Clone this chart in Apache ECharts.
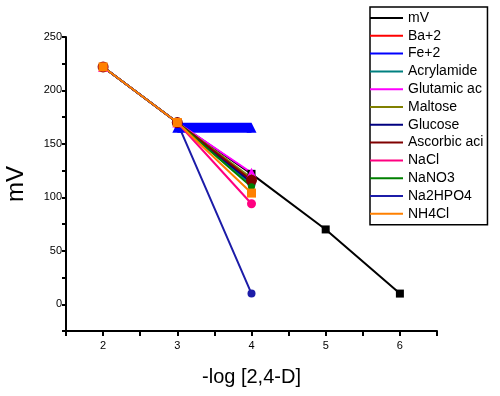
<!DOCTYPE html>
<html>
<head>
<meta charset="utf-8">
<script src="https://cdn.jsdelivr.net/npm/echarts@6/dist/echarts.min.js"></script>
<style>
  html, body { margin: 0; padding: 0; background: #fff; }
  #chart { width: 500px; height: 396px; }
</style>
</head>
<body>
<div id="chart"></div>
<script>
// x = -log[2,4-D], y = mV
let names = ['mV', 'Ba+2', 'Fe+2', 'Acrylamide', 'Glutamic acid', 'Maltose', 'Glucose',
             'Ascorbic acid', 'NaCl', 'NaNO3', 'Na2HPO4', 'NH4Cl'];
let colors = ['#000000', '#ff0000', '#0000ff', '#008080', '#ff00ff', '#808000', '#000080',
              '#800000', '#ff0080', '#008000', '#1c1ca8', '#ff8000'];

let mV = [[2, 222], [3, 170], [4, 122], [5, 70], [6, 10]];
let ba = [[2, 222], [3, 170], [4, 115]];
let fe = [[3, 165], [4, 165]];
let acrylamide = [[2, 222], [3, 170], [4, 112]];
let glutamic = [[2, 222], [3, 170], [4, 123]];
let maltose = [[2, 222], [3, 170], [4, 118]];
let glucose = [[2, 222], [3, 170], [4, 114]];
let ascorbic = [[2, 222], [3, 170], [4, 116]];
let nacl = [[2, 222], [3, 170], [4, 94]];
let nano3 = [[2, 222], [3, 170], [4, 110]];
let na2hpo4 = [[2, 222], [3, 170], [4, 10]];
let nh4cl = [[2, 222], [3, 170], [4, 104]];

let allData = [mV, ba, fe, acrylamide, glutamic, maltose, glucose, ascorbic, nacl, nano3, na2hpo4, nh4cl];
let symbols = ['rect', 'none', 'triangle', 'circle', 'triangle', 'diamond', 'circle',
               'circle', 'circle', 'circle', 'circle', 'rect'];
let symbolSizes = [8, 0, 10, 8, 10, 8, 8, 11, 9, 7, 8, 9];
let lineWidths = [2, 2, 10, 2, 2, 2, 2, 2, 2, 2, 2, 2];

let series = names.map(function(n, i) {
    return {
        name: n,
        type: 'line',
        data: allData[i],
        symbol: symbols[i],
        symbolSize: symbolSizes[i],
        showSymbol: symbols[i] != 'none',
        itemStyle: { color: colors[i] },
        lineStyle: { color: colors[i], width: lineWidths[i] },
        animation: false
    };
});

let option = {
    backgroundColor: '#fff',
    animation: false,
    grid: { left: 66, right: 63, top: 37, bottom: 65, outerBoundsMode: 'none' },
    legend: {
        orient: 'vertical',
        left: 370,
        top: 7,
        padding: [4, 4, 4, 0],
        itemGap: 3.8,
        itemWidth: 33,
        itemHeight: 14,
        icon: 'path://M0,6 L33,6 L33,8 L0,8 Z',
        borderColor: '#000',
        borderWidth: 1.5,
        textStyle: {
            fontFamily: 'Liberation Sans',
            fontSize: 14,
            color: '#000',
            width: 78,
            overflow: 'truncate',
            ellipsis: ''
        },
        data: names
    },
    xAxis: {
        type: 'value',
        min: 1.5,
        max: 6.5,
        interval: 0.5,
        name: '-log [2,4-D]',
        nameLocation: 'middle',
        nameGap: 36,
        nameTextStyle: { fontFamily: 'Liberation Sans', fontSize: 20, color: '#000' },
        axisLine: { show: true, onZero: false, lineStyle: { color: '#000', width: 2 } },
        axisTick: { show: true, length: 5, lineStyle: { color: '#000', width: 2 } },
        axisLabel: {
            color: '#000',
            fontFamily: 'Liberation Sans',
            fontSize: 11,
            margin: 9,
            formatter: function(v) { return (v % 1 === 0 && v > 1.5 && v < 6.5) ? v : ''; }
        },
        splitLine: { show: false }
    },
    yAxis: {
        type: 'value',
        min: -25,
        max: 250,
        interval: 25,
        name: 'mV',
        nameLocation: 'middle',
        nameGap: 38,
        nameRotate: 90,
        nameTextStyle: { fontFamily: 'Liberation Sans', fontSize: 24, color: '#000' },
        axisLine: { show: true, onZero: false, lineStyle: { color: '#000', width: 2 } },
        axisTick: { show: true, length: 4, lineStyle: { color: '#000', width: 2 } },
        axisLabel: {
            color: '#000',
            fontFamily: 'Liberation Sans',
            fontSize: 11,
            margin: 4,
            formatter: function(v) { return (v % 50 === 0) ? v : ''; }
        },
        splitLine: { show: false }
    },
    series: series
};

var chart = echarts.init(document.getElementById('chart'));
chart.setOption(option);
</script>
</body>
</html>
